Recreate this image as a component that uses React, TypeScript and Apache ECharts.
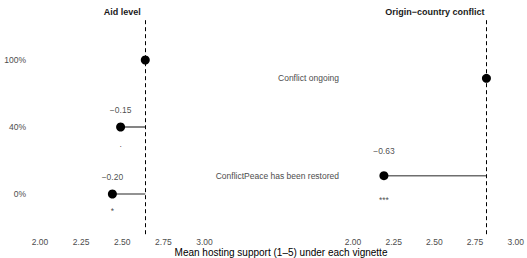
import React, { useEffect, useRef } from "react";
import * as echarts from "echarts";

const aidLevels = ["0%", "40%", "100%"];
const aidMeans = [2.44, 2.49, 2.64];
const aidDiffs = [-0.2, -0.15, 0];
const aidStars = ["*", ".", ""];
const aidBaseline = 2.64;

const conflictLevels = ["ConflictPeace has been restored", "Conflict ongoing"];
const conflictMeans = [2.19, 2.82];
const conflictDiffs = [-0.63, 0];
const conflictStars = ["***", ""];
const conflictBaseline = 2.82;

const xMin = 2;
const xMax = 3;
const xInterval = 0.25;
const panelTitles = ["Aid level", "Origin\u2212country conflict"];
const xTitle = "Mean hosting support (1\u20135) under each vignette";

const FONT = "'Liberation Sans', Arial, Helvetica, sans-serif";
const fmtDiff = (d: number) => (d < 0 ? "\u2212" : "") + Math.abs(d).toFixed(2);

function panelSeries(
  idx: number,
  means: number[],
  diffs: number[],
  stars: string[],
  baseline: number
) {
  const segData = means.map((m, i) => [m, i + 1, baseline]);
  return [
    {
      type: "custom",
      xAxisIndex: idx,
      yAxisIndex: idx,
      silent: true,
      data: segData,
      renderItem: (params: any, api: any) => {
        const y = api.value(1);
        const p1 = api.coord([api.value(0), y]);
        const p2 = api.coord([api.value(2), y]);
        return {
          type: "line",
          shape: { x1: p1[0], y1: p1[1], x2: p2[0], y2: p2[1] },
          style: { stroke: "#6e6e6e", lineWidth: 1.7 },
        };
      },
      markLine: {
        silent: true,
        symbol: "none",
        label: { show: false },
        lineStyle: { color: "#000", width: 1, type: [4, 3] },
        data: [{ xAxis: baseline }],
      },
      z: 2,
    },
    {
      type: "scatter",
      xAxisIndex: idx,
      yAxisIndex: idx,
      symbolSize: 9,
      itemStyle: { color: "#000", opacity: 1 },
      data: means.map((m, i) => [m, i + 1]),
      z: 3,
    },
    {
      type: "scatter",
      xAxisIndex: idx,
      yAxisIndex: idx,
      symbolSize: 1,
      itemStyle: { color: "transparent" },
      data: means
        .map((m, i) => [m, i + 1 + 0.25, diffs[i]])
        .filter((d) => d[2] !== 0),
      label: {
        show: true,
        position: "inside",
        formatter: (p: any) => fmtDiff(p.value[2]),
        fontFamily: FONT,
        fontSize: 8.5,
        color: "#1a1a1a",
      },
      z: 4,
    },
    {
      type: "scatter",
      xAxisIndex: idx,
      yAxisIndex: idx,
      symbolSize: 1,
      itemStyle: { color: "transparent" },
      data: means
        .map((m, i) => ({ value: [m, i + 1 - 0.25], star: stars[i] }))
        .filter((d) => d.star !== ""),
      label: {
        show: true,
        position: "inside",
        formatter: (p: any) => p.data.star,
        fontFamily: FONT,
        fontSize: 8.5,
        color: "#1a1a1a",
      },
      z: 4,
    },
  ];
}

function xAxisCfg(idx: number) {
  return {
    type: "value",
    gridIndex: idx,
    min: xMin,
    max: xMax,
    interval: xInterval,
    axisLine: { show: false },
    axisTick: { show: false },
    splitLine: { show: false },
    axisLabel: {
      margin: 3,
      fontFamily: FONT,
      fontSize: 8.5,
      color: "#4d4d4d",
      formatter: (v: number) => v.toFixed(2),
    },
  };
}

function yAxisCfg(idx: number, levels: string[]) {
  return {
    type: "value",
    gridIndex: idx,
    min: 0.4,
    max: levels.length + 0.6,
    axisLine: { show: false },
    axisTick: { show: false },
    splitLine: { show: false },
    axisLabel: {
      margin: 14,
      fontFamily: FONT,
      fontSize: 8.5,
      color: "#4d4d4d",
      customValues: levels.map((_, i) => i + 1),
      formatter: (v: number) => levels[Math.round(v) - 1] ?? "",
    },
  };
}

export default function App() {
  const ref = useRef<HTMLDivElement>(null);
  useEffect(() => {
    if (!ref.current) return;
    const chart = echarts.init(ref.current, undefined, { renderer: "svg" });
    chart.setOption({
      animation: false,
      backgroundColor: "#ffffff",
      grid: [
        { left: 40, width: 164.5, top: 19.8, height: 214.4 },
        { left: 353, width: 163.5, top: 19.8, height: 214.4 },
      ],
      xAxis: [xAxisCfg(0), xAxisCfg(1)],
      yAxis: [yAxisCfg(0, aidLevels), yAxisCfg(1, conflictLevels)],
      graphic: [
        {
          type: "text",
          x: 122.3,
          y: 12,
          style: {
            text: panelTitles[0],
            textAlign: "center",
            textVerticalAlign: "middle",
            font: `bold 9px ${FONT}`,
            fill: "#1a1a1a",
          },
        },
        {
          type: "text",
          x: 434.8,
          y: 12,
          style: {
            text: panelTitles[1],
            textAlign: "center",
            textVerticalAlign: "middle",
            font: `bold 9px ${FONT}`,
            fill: "#1a1a1a",
          },
        },
        {
          type: "text",
          x: 281,
          y: 252.5,
          style: {
            text: xTitle,
            textAlign: "center",
            textVerticalAlign: "middle",
            font: `10px ${FONT}`,
            fill: "#000",
          },
        },
      ],
      series: [
        ...panelSeries(0, aidMeans, aidDiffs, aidStars, aidBaseline),
        ...panelSeries(1, conflictMeans, conflictDiffs, conflictStars, conflictBaseline),
      ],
    });
    return () => chart.dispose();
  }, []);
  return (
    <div
      ref={ref}
      style={{ width: 527, height: 258, position: "absolute", left: 0, top: 0 }}
    />
  );
}
